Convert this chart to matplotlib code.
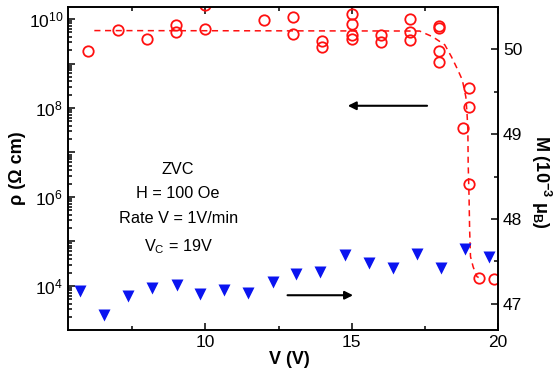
import numpy as np
import matplotlib
matplotlib.use('Agg')
import matplotlib.pyplot as plt
from matplotlib.ticker import FixedLocator, LogLocator, FuncFormatter, MultipleLocator, NullFormatter

plt.rcParams['font.family'] = ['Liberation Sans', 'DejaVu Sans']
plt.rcParams['mathtext.fontset'] = 'custom'
plt.rcParams['mathtext.rm'] = 'Liberation Sans'
plt.rcParams['mathtext.it'] = 'Liberation Sans:italic'
plt.rcParams['mathtext.bf'] = 'Liberation Sans:bold'

# resistivity (red circles), V in volts, rho in Ohm cm
rho_v = [6, 7, 8, 9, 9, 10, 10, 12, 13, 13, 14, 14, 15, 15, 15, 15,
         16, 16, 17, 17, 17, 18, 18, 18, 18, 19, 19, 18.8, 19, 19.35, 19.85]
rho_log = [9.28, 9.75, 9.55, 9.86, 9.71, 10.31, 9.78, 9.97, 10.05, 9.66, 9.51, 9.38,
           10.11, 9.88, 9.64, 9.54, 9.64, 9.49, 10.0, 9.70, 9.53, 9.84, 9.80, 9.29,
           9.03, 8.44, 8.03, 7.56, 6.29, 4.19, 4.15]
rho = [10 ** p for p in rho_log]

# guide line through resistivity
fit_v = [6.2, 17.32, 17.77, 18.18, 18.41, 18.63, 18.78, 18.90, 18.94, 18.97,
         18.98, 19.01, 19.03, 19.06, 19.15, 19.28, 19.34]
fit_log = [9.74, 9.73, 9.60, 9.42, 9.15, 8.85, 8.63, 8.25, 7.89, 7.51,
           6.76, 6.01, 5.26, 4.66, 4.43, 4.21, 4.19]
fit_rho = [10 ** p for p in fit_log]

# magnetization (blue triangles), 10^-3 muB
m_v = [5.70, 6.53, 7.35, 8.17, 9.01, 9.82, 10.65, 11.46, 12.31, 13.11, 13.93,
       14.76, 15.58, 16.40, 17.22, 18.04, 18.86, 19.68]
m_val = [47.15, 46.87, 47.09, 47.18, 47.22, 47.11, 47.16, 47.13, 47.26, 47.35,
         47.37, 47.57, 47.48, 47.42, 47.59, 47.42, 47.64, 47.55]

rho_decades = [1e4, 1e5, 1e6, 1e7, 1e8, 1e9, 1e10]

fig = plt.figure(figsize=(5.54, 3.76), dpi=100)
ax = fig.add_axes([68 / 554, 1 - 330 / 376, 430 / 554, 323 / 376])
ax2 = ax.twinx()

ax.plot(fit_v, fit_rho, '--', color='#ff1010', lw=1.1, dashes=(4, 3))
ax.plot(rho_v, rho, 'o', mfc='none', mec='#ff1010', mew=1.3, ms=7.5)
ax2.plot(m_v, m_val, 'v', color='#0a14f0', ms=8, mec='none')

ax.set_yscale('log')
ax.set_xlim(5.3, 20)
ax.set_ylim(10 ** 3.01, 10 ** 10.27)
ax2.set_ylim(46.69, 50.50)

ax.xaxis.set_major_locator(MultipleLocator(5))
ax.xaxis.set_minor_locator(MultipleLocator(2.5))
ax.yaxis.set_major_locator(FixedLocator(rho_decades))
ax.yaxis.set_minor_locator(LogLocator(base=10, subs=np.arange(2, 10), numticks=50))
ax.yaxis.set_minor_formatter(NullFormatter())


def even_decades(y, pos):
    e = int(round(np.log10(y)))
    return r'10$^{%d}$' % e if e % 2 == 0 else ''


ax.yaxis.set_major_formatter(FuncFormatter(even_decades))
ax2.yaxis.set_major_locator(MultipleLocator(1))
ax2.yaxis.set_minor_locator(MultipleLocator(0.5))

ax.tick_params(which='both', direction='in', top=True, right=False, width=1.1, labelsize=12.5)
ax.tick_params(which='major', length=5)
ax.tick_params(which='minor', length=3)
ax2.tick_params(which='both', direction='in', width=1.1, labelsize=12.5)
ax2.tick_params(which='major', length=5)
ax2.tick_params(which='minor', length=3)
for a in (ax, ax2):
    for s in a.spines.values():
        s.set_linewidth(1.2)

ax.set_xlabel('V (V)', fontsize=13, fontweight='bold')
ax.xaxis.set_label_coords(0.515, -0.065)
ax.set_ylabel('ρ (Ω cm)', fontsize=13, fontweight='bold', labelpad=2)
ax2.set_ylabel(r'M (10$^{\mathbf{-3}}$ μ$_{\mathbf{B}}$)', fontsize=13, fontweight='bold',
               rotation=270, va='center')
ax2.yaxis.set_label_coords(1.1, 0.46)

ax.text(0.256, 0.375, 'ZVC\nH = 100 Oe\nRate V = 1V/min\nV$_\\mathrm{C}$ = 19V',
        transform=ax.transAxes, ha='center', va='center', fontsize=11.7,
        linespacing=1.8, multialignment='center')

ax.annotate('', xy=(14.77, 10 ** 8.05), xytext=(17.67, 10 ** 8.05),
            arrowprops=dict(arrowstyle='-|>', color='black', lw=1.5, mutation_scale=12))
ax2.annotate('', xy=(15.14, 47.10), xytext=(12.71, 47.10),
             arrowprops=dict(arrowstyle='-|>', color='black', lw=1.5, mutation_scale=12))

fig.savefig('out.png', dpi=100)
